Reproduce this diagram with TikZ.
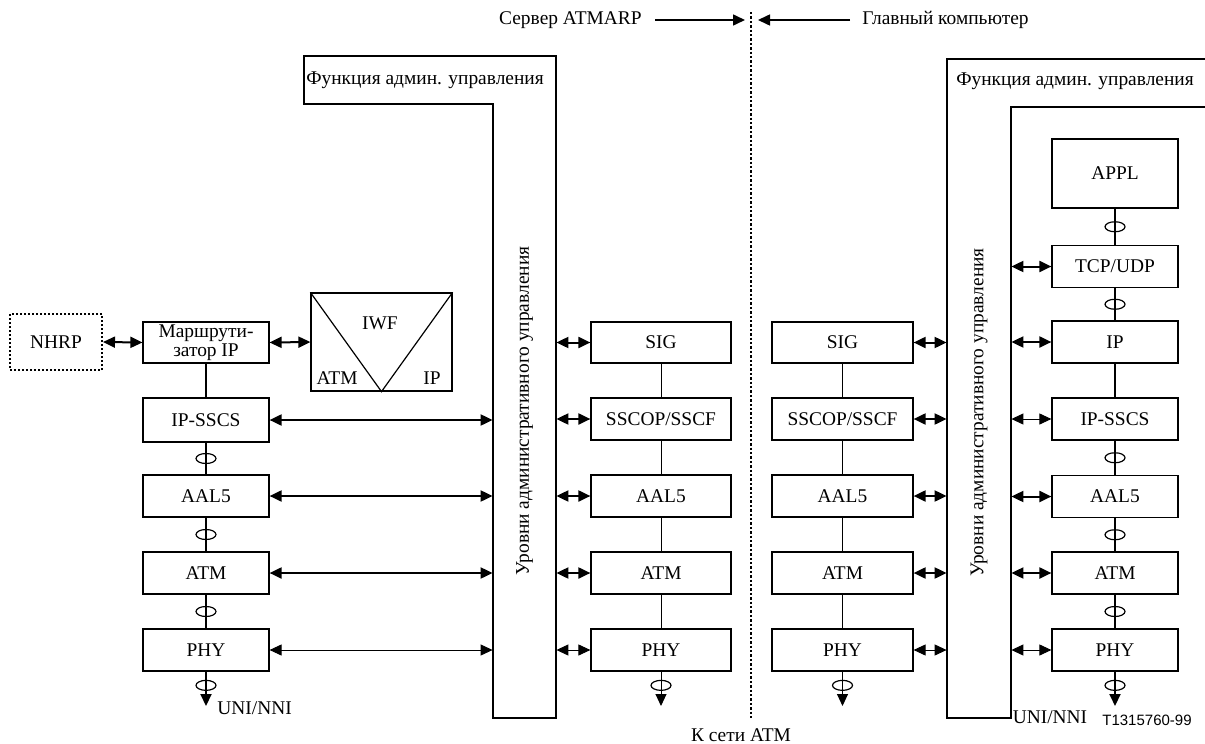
\documentclass[tikz,border=0pt]{standalone}
\usepackage{fontspec}
\setmainfont{Liberation Serif}
\newfontfamily\tagfont{Liberation Sans}
\usetikzlibrary{arrows.meta,shapes.geometric}

\begin{document}
\begin{tikzpicture}[x=0.5pt,y=-0.5pt,
  every node/.style={font=\fontsize{9.7}{9.7}\selectfont},
  stackbox/.style={draw, line width=0.6pt, inner sep=0pt, minimum height=21pt},
  barspace/.style={inner sep=0pt, minimum width=31.5pt, minimum height=307pt},
  sap/.style={draw, ellipse, line width=0.6pt, inner sep=0pt, minimum width=10pt, minimum height=5pt},
  boldlink/.style={line width=1pt, {Triangle[length=6pt,width=5.5pt]}-{Triangle[length=6pt,width=5.5pt]}},
  thinlink/.style={line width=0.5pt, {Triangle[length=6pt,width=5.5pt]}-{Triangle[length=6pt,width=5.5pt]}},
  heavyline/.style={line width=1pt},
  lightline/.style={line width=0.5pt},
  downtip/.style={-{Triangle[length=6pt,width=5.5pt]}},
  mgmt/.style={line width=0.6pt},
  divider/.style={line width=1pt, dash pattern=on 1.2pt off 1pt},
  toparrow/.style={line width=0.8pt, -{Triangle[length=6pt,width=5.5pt]}},
]
\useasboundingbox (0,0) rectangle (1205,744);

% top labels and divider
\node[anchor=east, inner sep=0pt] (server) at (642,20) {Сервер ATMARP};
\node[anchor=west, inner sep=0pt] (host) at (862,20) {Главный компьютер};
\coordinate (divtop) at (751,12);
\coordinate (divbot) at (751,718);
\draw[divider] (divtop) -- (divbot);
\draw[toparrow] ([xshift=6.5pt]server.east) -- ([xshift=-3pt]divtop |- server.east);
\draw[toparrow] ([xshift=-6pt]host.west) -- ([xshift=3.5pt]divtop |- host.west);
\node (atmnet) at (741,735) {К сети ATM};

% management of ATMARP server
\draw[mgmt] (304,56) -- (556,56) -- (556,718) -- (493,718) -- (493,104) -- (304,104) -- cycle;
\node (lfunc) at (425,80) {Функция админ. управления};
\node[barspace] (lbar) at (524.5,411) {};
\node[rotate=90] (lbartxt) at (lbar.center) {Уровни административного управления};

% management of host
\draw[mgmt] (1205,107) -- (1011,107) -- (1011,718) -- (947,718) -- (947,59) -- (1205,59);
\node (rfunc) at (1075,81) {Функция админ. управления};
\node[barspace, minimum width=32pt, minimum height=305.5pt] (rbar) at (979,412.5) {};
\node[rotate=90] (rbartxt) at (rbar.center) {Уровни административного управления};

% router stack
\node[draw, line width=1pt, dash pattern=on 1pt off 1pt, minimum width=46pt, minimum height=28pt] (nhrp) at (56,342) {NHRP};
\node[stackbox, minimum width=63pt, minimum height=20.5pt, align=center] (router) at (206,342.5) {Маршрути-\\затор IP};
\node[stackbox, minimum width=70.5pt, minimum height=49pt] (iwf) at (381.5,342) {};
\draw[mgmt] (iwf.north west) -- (iwf.south) -- (iwf.north east);
\node (iwflbl) at (380,323) {IWF};
\node (iwfatm) at (337,378) {ATM};
\node (iwfip) at (432,378) {IP};
\node[stackbox, minimum width=63pt, minimum height=22pt] (lsscs) at (206,420) {IP-SSCS};
\node[stackbox, minimum width=63pt] (laal) at (206,496) {AAL5};
\node[stackbox, minimum width=63pt] (latm) at (206,573) {ATM};
\node[stackbox, minimum width=63pt] (lphy) at (206,650) {PHY};
\coordinate (lend) at (206,706);
\node[anchor=west, inner sep=0pt] (luni) at (217,708) {UNI/NNI};

\draw[boldlink] (nhrp.east) -- (router.west);
\draw[boldlink] (router.east) -- (iwf.west);
\draw[heavyline] (router) -- (lsscs);
\draw[heavyline] (lsscs) -- (laal) node[midway, sap] {};
\draw[heavyline] (laal) -- (latm) node[midway, sap] {};
\draw[heavyline] (latm) -- (lphy) node[midway, sap] {};
\draw[heavyline, downtip] (lphy) -- (lend) node[pos=0.4, sap] {};
\draw[boldlink] (lsscs.east) -- (lsscs.east -| lbar.west);
\draw[boldlink] (laal.east) -- (laal.east -| lbar.west);
\draw[boldlink] (latm.east) -- (latm.east -| lbar.west);
\draw[thinlink] (lphy.east) -- (lphy.east -| lbar.west);

% signalling stack of ATMARP server
\node[stackbox, minimum width=70pt, minimum height=20.5pt] (asig) at (661,342.5) {SIG};
\node[stackbox, minimum width=70pt] (asscop) at (661,419) {SSCOP/SSCF};
\node[stackbox, minimum width=70pt] (aaal) at (661,496) {AAL5};
\node[stackbox, minimum width=70pt] (aatm) at (661,573) {ATM};
\node[stackbox, minimum width=70pt] (aphy) at (661,650) {PHY};
\coordinate (aend) at (661,706);
\draw[lightline] (asig) -- (asscop);
\draw[lightline] (asscop) -- (aaal);
\draw[lightline] (aaal) -- (aatm);
\draw[lightline] (aatm) -- (aphy);
\draw[lightline, downtip] (aphy) -- (aend) node[pos=0.4, sap] {};
\draw[boldlink] (lbar.east |- asig.west) -- (asig.west);
\draw[boldlink] (lbar.east |- asscop.west) -- (asscop.west);
\draw[boldlink] (lbar.east |- aaal.west) -- (aaal.west);
\draw[boldlink] (lbar.east |- aatm.west) -- (aatm.west);
\draw[thinlink] (lbar.east |- aphy.west) -- (aphy.west);

% signalling stack of host
\node[stackbox, minimum width=70.5pt, minimum height=20.5pt] (csig) at (842.5,342.5) {SIG};
\node[stackbox, minimum width=70.5pt] (csscop) at (842.5,419) {SSCOP/SSCF};
\node[stackbox, minimum width=70.5pt] (caal) at (842.5,496) {AAL5};
\node[stackbox, minimum width=70.5pt] (catm) at (842.5,573) {ATM};
\node[stackbox, minimum width=70.5pt] (cphy) at (842.5,650) {PHY};
\coordinate (cend) at (842.5,706);
\draw[lightline] (csig) -- (csscop);
\draw[lightline] (csscop) -- (caal);
\draw[lightline] (caal) -- (catm);
\draw[lightline] (catm) -- (cphy);
\draw[lightline, downtip] (cphy) -- (cend) node[pos=0.4, sap] {};
\draw[boldlink] (csig.east) -- (csig.east -| rbar.west);
\draw[boldlink] (csscop.east) -- (csscop.east -| rbar.west);
\draw[boldlink] (caal.east) -- (caal.east -| rbar.west);
\draw[boldlink] (catm.east) -- (catm.east -| rbar.west);
\draw[thinlink] (cphy.east) -- (cphy.east -| rbar.west);

% host stack
\node[stackbox, minimum width=63pt, minimum height=34.5pt] (appl) at (1115,173.5) {APPL};
\node[stackbox, minimum width=63pt] (tcpudp) at (1115,266.5) {TCP/UDP};
\node[stackbox, minimum width=63pt] (rip) at (1115,342) {IP};
\node[stackbox, minimum width=63pt] (rsscs) at (1115,419) {IP-SSCS};
\node[stackbox, minimum width=63pt] (raal) at (1115,496.5) {AAL5};
\node[stackbox, minimum width=63pt] (ratm) at (1115,573) {ATM};
\node[stackbox, minimum width=63pt] (rphy) at (1115,650) {PHY};
\coordinate (rend) at (1115,706);
\node (runi) at (1050,717) {UNI/NNI};
\node[font=\tagfont\fontsize{7.5}{7.5}\selectfont] (tag) at (1147,720) {T1315760-99};

\draw[heavyline] (appl) -- (tcpudp) node[midway, sap] {};
\draw[heavyline] (tcpudp) -- (rip) node[midway, sap] {};
\draw[heavyline] (rip) -- (rsscs);
\draw[heavyline] (rsscs) -- (raal) node[midway, sap] {};
\draw[heavyline] (raal) -- (ratm) node[midway, sap] {};
\draw[heavyline] (ratm) -- (rphy) node[midway, sap] {};
\draw[heavyline, downtip] (rphy) -- (rend) node[pos=0.4, sap] {};
\draw[boldlink] (rbar.east |- tcpudp.west) -- (tcpudp.west);
\draw[boldlink] (rbar.east |- rip.west) -- (rip.west);
\draw[thinlink] (rbar.east |- rsscs.west) -- (rsscs.west);
\draw[boldlink] (rbar.east |- raal.west) -- (raal.west);
\draw[boldlink] (rbar.east |- ratm.west) -- (ratm.west);
\draw[thinlink] (rbar.east |- rphy.west) -- (rphy.west);
\end{tikzpicture}
\end{document}
